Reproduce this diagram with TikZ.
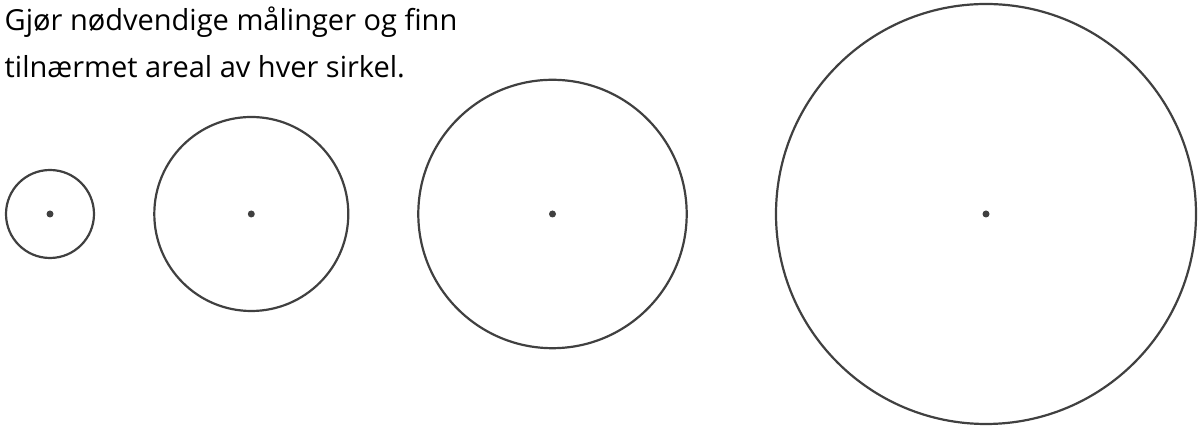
\documentclass[tikz,border=0pt]{standalone}
\usepackage{fontspec}
\setmainfont{Open Sans}
\usepackage{xcolor}
\usepackage{tikz}
\usetikzlibrary{positioning}
\definecolor{strek}{HTML}{404040}

\begin{document}
\begin{tikzpicture}[x=1pt, y=1pt]
    \tikzset{rim/.style={draw=strek, line width=2.2pt},
             senter/.style={fill=strek},
             tekst/.style={anchor=base west, inner sep=0pt, text=black, font=\fontsize{29}{34}\selectfont}}
    \useasboundingbox (0,0) rectangle (1202,427);

    % 1. Oppgavetekst
    \node[tekst] (linje1) at (4.5,396.5) {Gjør nødvendige målinger og finn};
    \node[tekst] (linje2) at (4.5,349) {tilnærmet areal av hver sirkel.};

    % 2. Sirkler med sentrum
    \foreach \x/\r in {50/44, 251.3/97, 552.5/134.2, 986/210} {
        \draw[rim] (\x,213) circle (\r);
        \fill[senter] (\x,213) circle (3.5);
    }
\end{tikzpicture}
\end{document}
